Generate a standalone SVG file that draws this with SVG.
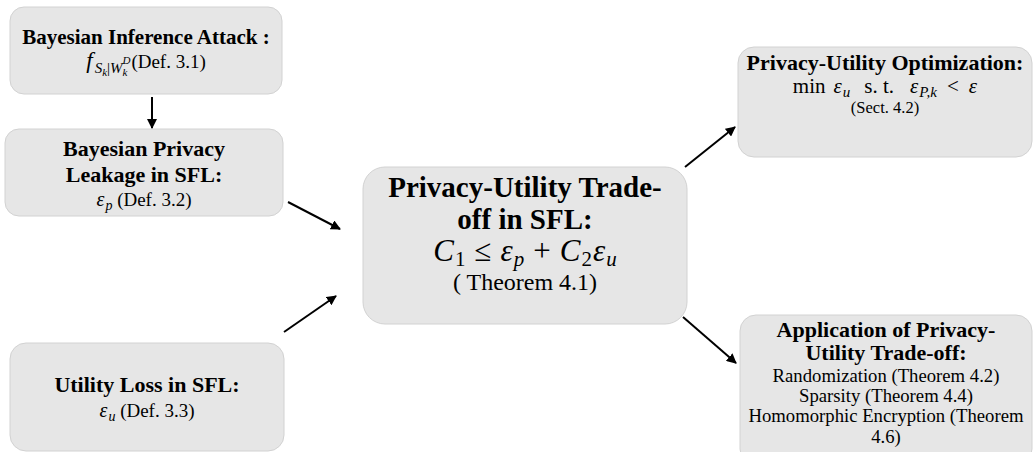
<svg xmlns="http://www.w3.org/2000/svg" width="1034" height="452" viewBox="0 0 1034 452">
<defs>
<style>
.box{fill:#e6e6e6;stroke:#d2d2d2;stroke-width:1}
.t{font-family:"Liberation Serif","Times New Roman",serif;fill:#000;text-anchor:middle}
.b{font-weight:bold}
.m{font-style:italic}
.edge{stroke:#000;stroke-width:2;fill:none;marker-end:url(#ah)}
</style>
<marker id="ah" viewBox="0 0 10 10" refX="9" refY="5" markerWidth="5" markerHeight="5" orient="auto" markerUnits="strokeWidth">
<path d="M0,0 L10,5 L0,10 z" fill="#000"/>
</marker>
</defs>
<rect width="1034" height="452" fill="#fff"/>

<g id="n-attack" font-family="Liberation Serif, serif">
<rect class="box" x="10" y="7" width="272" height="87" rx="14"/>
<text class="t b" x="146" y="44" font-size="21">Bayesian Inference Attack :</text>
<text class="t" x="146" y="68" font-size="19"><tspan class="m" font-size="23">f</tspan><tspan class="m" font-size="15" dx="2" dy="5">S</tspan><tspan class="m" font-size="11" dy="3">k</tspan><tspan font-size="15" dy="-3">|</tspan><tspan class="m" font-size="15">W</tspan><tspan class="m" font-size="11" dy="-9">D</tspan><tspan class="m" font-size="11" dx="-8" dy="12">k</tspan><tspan dx="4" dy="-8">(Def. 3.1)</tspan></text>
</g>

<g id="n-leakage" font-family="Liberation Serif, serif">
<rect class="box" x="5" y="129" width="278" height="87" rx="14"/>
<text class="t b" x="144" y="156" font-size="22">Bayesian Privacy</text>
<text class="t b" x="144" y="182" font-size="22">Leakage in SFL:</text>
<text class="t" x="144" y="206" font-size="19"><tspan class="m" font-size="20">ε</tspan><tspan class="m" font-size="14" dx="1" dy="4">p</tspan><tspan dy="-4"> (Def. 3.2)</tspan></text>
</g>

<g id="n-utility" font-family="Liberation Serif, serif">
<rect class="box" x="10" y="343" width="274" height="108" rx="16"/>
<text class="t b" x="147" y="392" font-size="22">Utility Loss in SFL:</text>
<text class="t" x="147" y="417" font-size="19"><tspan class="m" font-size="20">ε</tspan><tspan class="m" font-size="14" dx="1" dy="4">u</tspan><tspan dy="-4"> (Def. 3.3)</tspan></text>
</g>

<g id="n-tradeoff" font-family="Liberation Serif, serif">
<rect class="box" x="363" y="167" width="324" height="157" rx="22"/>
<text class="t b" x="525" y="197" font-size="29">Privacy-Utility Trade-</text>
<text class="t b" x="525" y="229" font-size="29">off in SFL:</text>
<text class="t" x="525" y="261" font-size="31"><tspan class="m">C</tspan><tspan font-size="21" dx="1" dy="5">1</tspan><tspan dx="9" dy="-5">≤</tspan><tspan class="m" dx="9">ε</tspan><tspan class="m" font-size="21" dx="1" dy="5">p</tspan><tspan dx="9" dy="-5">+</tspan><tspan class="m" dx="9">C</tspan><tspan font-size="21" dx="1" dy="5">2</tspan><tspan class="m" dx="1" dy="-5">ε</tspan><tspan class="m" font-size="21" dx="1" dy="5">u</tspan></text>
<text class="t" x="525" y="290" font-size="24">( Theorem 4.1)</text>
</g>

<g id="n-optimization" font-family="Liberation Serif, serif">
<rect class="box" x="738" y="47" width="294" height="110" rx="16"/>
<text class="t b" x="885" y="70" font-size="22">Privacy-Utility Optimization:</text>
<text class="t" x="885" y="93" font-size="21">min<tspan class="m" dx="8">ε</tspan><tspan class="m" font-size="15" dx="1" dy="4">u</tspan><tspan dx="14" dy="-4">s. t.</tspan><tspan class="m" dx="16">ε</tspan><tspan class="m" font-size="15" dx="1" dy="4">P,k</tspan><tspan dx="10" dy="-4">&lt;</tspan><tspan class="m" dx="10">ε</tspan></text>
<text class="t" x="885" y="113" font-size="16.5">(Sect. 4.2)</text>
</g>

<g id="n-application" font-family="Liberation Serif, serif">
<rect class="box" x="740" y="315" width="292" height="150" rx="16"/>
<text class="t b" x="886" y="337" font-size="22">Application of Privacy-</text>
<text class="t b" x="886" y="360" font-size="22">Utility Trade-off:</text>
<text class="t" x="886" y="382" font-size="18.7">Randomization (Theorem 4.2)</text>
<text class="t" x="886" y="402" font-size="18.7">Sparsity (Theorem 4.4)</text>
<text class="t" x="886" y="422" font-size="18.7">Homomorphic Encryption (Theorem</text>
<text class="t" x="886" y="443" font-size="18.7">4.6)</text>
</g>

<g id="connectors">
<line class="edge" x1="152" y1="97" x2="152" y2="128"/>
<line class="edge" x1="288" y1="202" x2="340" y2="229"/>
<line class="edge" x1="284" y1="332" x2="336" y2="296"/>
<line class="edge" x1="685" y1="167" x2="735" y2="127"/>
<line class="edge" x1="683" y1="317" x2="736" y2="363"/>
</g>
</svg>
